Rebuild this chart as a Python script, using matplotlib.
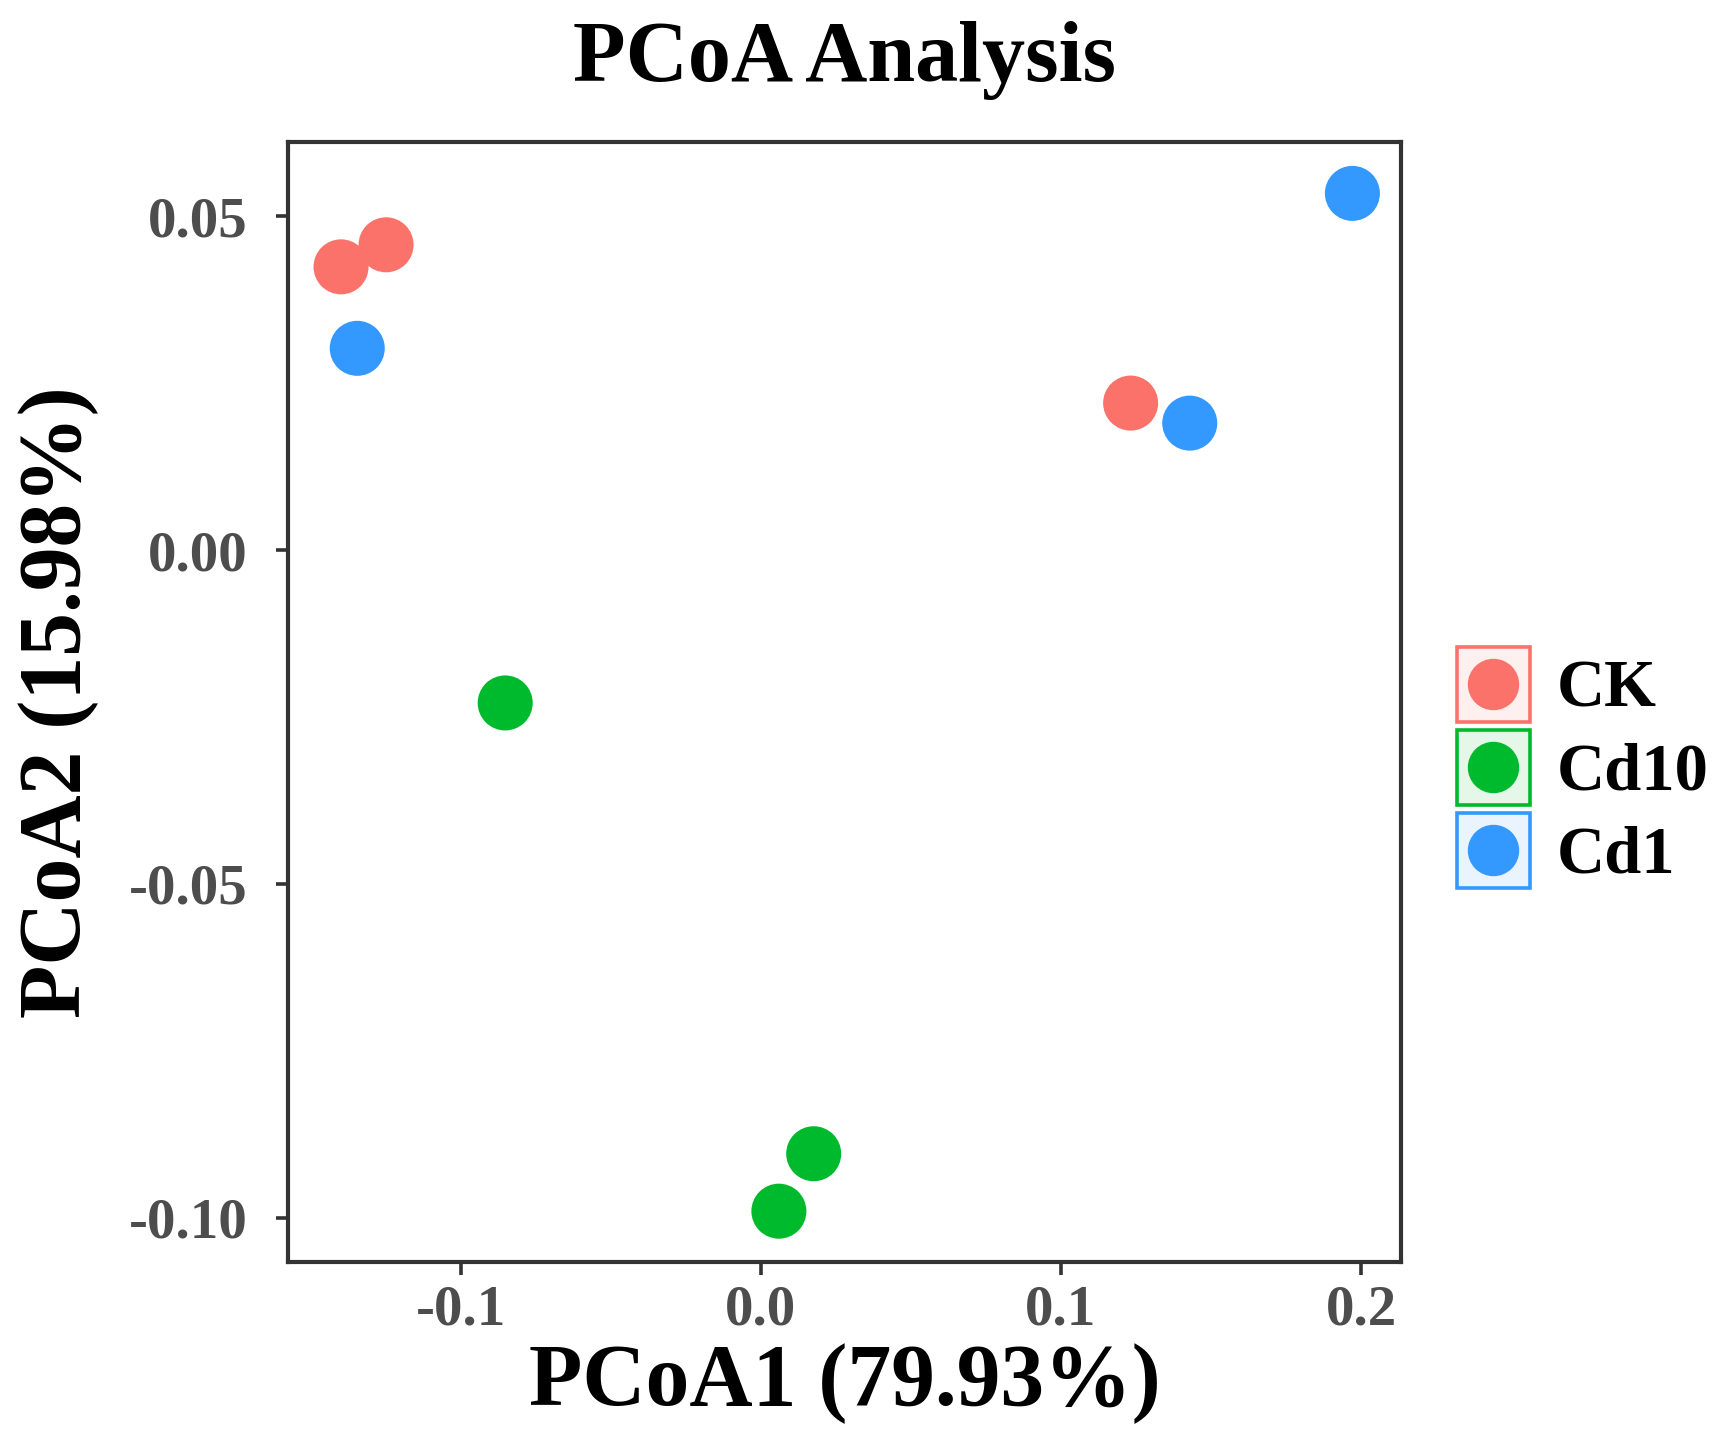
import matplotlib
matplotlib.use("Agg")
import matplotlib.pyplot as plt
from matplotlib.legend_handler import HandlerBase
from matplotlib.patches import Rectangle
from matplotlib.lines import Line2D

plt.rcParams['font.family'] = ['Liberation Serif', 'DejaVu Serif']
plt.rcParams['font.weight'] = 'bold'
plt.rcParams['axes.unicode_minus'] = False

# sample scores on the first two axes
groups = ['CK', 'Cd10', 'Cd1']
colors = {'CK': '#FA726A', 'Cd10': '#00BA2E', 'Cd1': '#3399FF'}
pcoa1 = {
    'CK': [-0.1399, -0.1249, 0.1232],
    'Cd10': [-0.0852, 0.0176, 0.0060],
    'Cd1': [-0.1345, 0.1429, 0.1971],
}
pcoa2 = {
    'CK': [0.0424, 0.0457, 0.0220],
    'Cd10': [-0.0229, -0.0904, -0.0990],
    'Cd1': [0.0302, 0.0190, 0.0534],
}
xticks = [-0.1, 0.0, 0.1, 0.2]
xticklabels = ['-0.1', '0.0', '0.1', '0.2']
yticks = [0.05, 0.0, -0.05, -0.10]
yticklabels = ['0.05', '0.00', '-0.05', '-0.10']


class BoxedDot(HandlerBase):
    # ggplot-ish legend key: coloured frame, pale fill, dot in the middle
    def create_artists(self, legend, orig_handle, xdescent, ydescent,
                       width, height, fontsize, trans):
        c = orig_handle.get_markerfacecolor()
        box = Rectangle((-xdescent + 1.2, -ydescent + 1.2), width - 2.4, height - 2.4,
                        facecolor=c, edgecolor='none', alpha=0.1, transform=trans)
        edge = Rectangle((-xdescent + 1.2, -ydescent + 1.2), width - 2.4, height - 2.4,
                         facecolor='none', edgecolor=c, linewidth=2.6, transform=trans)
        dot = Line2D([-xdescent + width / 2], [-ydescent + height / 2], marker='o',
                     markersize=36, color=c, linestyle='none', transform=trans)
        return [box, edge, dot]


fig = plt.figure(figsize=(17.22, 14.5), dpi=100)
ax = fig.add_axes([0.1672, 0.1297, 0.6464, 0.7724])

handles = []
for g in groups:
    ax.scatter(pcoa1[g], pcoa2[g], s=1570, color=colors[g], edgecolors='none', zorder=3)
    handles.append(Line2D([], [], marker='o', color=colors[g], markerfacecolor=colors[g],
                          linestyle='none'))

ax.set_xlim(-0.1576, 0.2133)
ax.set_ylim(-0.1066, 0.0611)
ax.set_xticks(xticks)
ax.set_xticklabels(xticklabels)
ax.set_yticks(yticks)
ax.set_yticklabels(yticklabels)
ax.tick_params(axis='both', direction='out', length=9, width=2.6, color='#333333',
               labelsize=41, labelcolor='#4D4D4D')
ax.tick_params(axis='x', pad=7)
ax.tick_params(axis='y', pad=20)
for s in ax.spines.values():
    s.set_linewidth(3.0)
    s.set_color('#333333')

ax.set_xlabel('PCoA1 (79.93%)', fontsize=63, fontweight='bold')
ax.set_ylabel('PCoA2 (15.98%)', fontsize=63, fontweight='bold')
ax.xaxis.set_label_coords(0.5, -0.072)
ax.yaxis.set_label_coords(-0.170, 0.5)
ax.set_title('PCoA Analysis', fontsize=62, fontweight='bold', pad=44)

fig.legend(handles, groups, handler_map={Line2D: BoxedDot()},
           loc='center left', bbox_to_anchor=(0.845, 0.471), frameon=False,
           fontsize=48, handlelength=1.15, handleheight=1.43, handletextpad=0.37,
           labelspacing=0.07, borderpad=0, borderaxespad=0)

fig.savefig('out.png', dpi=100, facecolor='white')
